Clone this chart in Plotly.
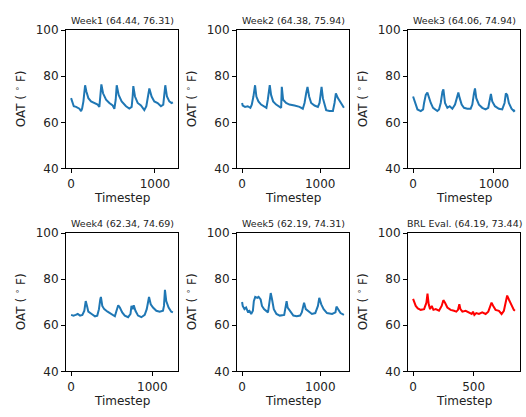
import plotly.graph_objects as go

# ---- data (timestep, OAT in °F) ----
week1_t = [0, 16, 32, 60, 79, 99, 119, 131, 147, 167, 183, 206, 238, 278, 317, 337, 349, 361, 381, 417, 456, 496, 516, 532, 544, 567, 603, 655, 694, 722, 734, 742, 762, 794, 833, 873, 897, 913, 933, 960, 992, 1032, 1071, 1099, 1111, 1123, 1143, 1171, 1198, 1214]
week1_v = [70.5, 68.4, 67.0, 66.7, 66.3, 65.9, 64.9, 65.9, 69.1, 76.1, 73.3, 70.5, 69.1, 68.4, 67.7, 66.7, 71.2, 76.5, 72.6, 69.8, 68.4, 67.3, 65.9, 69.8, 76.1, 71.9, 69.1, 67.0, 66.0, 66.7, 71.2, 75.7, 71.2, 68.4, 67.3, 65.3, 67.0, 71.2, 74.7, 71.2, 69.1, 68.4, 67.0, 67.7, 71.2, 76.1, 71.2, 69.1, 68.4, 68.7]

week2_t = [0, 8, 38, 72, 106, 124, 145, 166, 183, 209, 243, 286, 311, 329, 354, 371, 397, 436, 478, 500, 508, 525, 563, 606, 671, 735, 777, 799, 820, 837, 858, 884, 927, 970, 991, 1004, 1017, 1034, 1056, 1076, 1118, 1162, 1183, 1200, 1226, 1260, 1290, 1303]
week2_v = [68.4, 67.3, 66.7, 67.0, 66.3, 67.7, 71.2, 76.1, 71.2, 69.1, 67.7, 66.7, 66.3, 69.8, 76.1, 71.9, 69.1, 67.7, 67.0, 66.3, 75.4, 69.8, 68.4, 67.7, 67.3, 66.7, 65.9, 68.4, 72.6, 75.4, 71.2, 68.4, 67.3, 66.7, 68.4, 72.6, 75.4, 70.5, 67.0, 65.3, 64.9, 64.9, 68.4, 72.6, 70.5, 68.4, 66.7, 66.3]

week3_t = [0, 16, 33, 54, 95, 124, 136, 157, 177, 198, 219, 247, 300, 321, 342, 363, 375, 395, 424, 453, 486, 519, 548, 560, 577, 601, 630, 671, 712, 733, 753, 766, 782, 815, 856, 897, 930, 947, 963, 980, 1013, 1062, 1103, 1132, 1148, 1165, 1185, 1218, 1247, 1260]
week3_v = [71.2, 69.8, 67.7, 65.6, 64.9, 65.6, 68.4, 71.9, 72.9, 70.5, 68.4, 66.3, 64.9, 65.6, 68.4, 73.3, 74.3, 68.4, 66.3, 67.0, 65.9, 67.7, 71.9, 72.9, 70.5, 67.7, 66.3, 65.9, 65.9, 67.7, 72.6, 74.7, 70.5, 67.7, 66.3, 65.6, 66.3, 69.8, 72.3, 69.1, 67.0, 65.9, 65.6, 68.4, 72.6, 71.9, 68.4, 65.9, 64.9, 65.3]

week4_t = [0, 29, 57, 82, 110, 139, 163, 180, 196, 212, 253, 294, 322, 343, 359, 367, 384, 408, 449, 498, 539, 559, 580, 600, 629, 661, 702, 731, 743, 759, 771, 792, 824, 865, 906, 931, 947, 959, 980, 1008, 1049, 1090, 1131, 1143, 1155, 1171, 1200, 1233, 1253]
week4_v = [64.5, 64.2, 64.5, 64.9, 64.2, 64.5, 66.3, 70.5, 68.4, 65.9, 64.9, 63.9, 64.2, 67.0, 71.2, 72.3, 68.4, 67.0, 65.9, 64.9, 63.9, 66.3, 68.7, 67.7, 65.6, 64.2, 63.5, 64.9, 68.4, 67.0, 68.7, 66.3, 64.2, 63.5, 64.5, 67.0, 70.5, 72.3, 69.1, 67.7, 66.3, 65.9, 66.3, 68.4, 75.4, 70.5, 67.7, 65.9, 65.6]

week5_t = [0, 8, 30, 51, 73, 94, 116, 138, 150, 168, 194, 211, 237, 254, 280, 310, 331, 349, 366, 383, 405, 439, 482, 538, 556, 569, 582, 612, 655, 698, 741, 763, 779, 792, 814, 849, 892, 935, 969, 986, 1012, 1042, 1085, 1150, 1193, 1206, 1223, 1258, 1301]
week5_v = [70.1, 68.4, 67.0, 67.7, 65.9, 66.3, 64.9, 66.3, 70.5, 72.3, 71.9, 72.3, 71.2, 68.4, 67.0, 66.3, 65.6, 69.8, 74.0, 71.2, 67.0, 64.9, 64.2, 64.5, 68.4, 70.5, 67.7, 66.3, 64.2, 63.9, 64.2, 65.6, 68.4, 69.8, 67.0, 65.9, 64.9, 65.3, 68.4, 71.9, 69.1, 67.0, 65.3, 64.9, 65.6, 68.1, 67.0, 65.3, 64.5]

brl_t = [0, 11, 22, 39, 63, 91, 110, 119, 129, 140, 154, 168, 187, 214, 236, 250, 264, 283, 310, 338, 357, 371, 382, 391, 407, 434, 462, 484, 495, 506, 522, 544, 571, 599, 621, 634, 648, 662, 681, 709, 731, 750, 764, 777, 791, 813, 832, 841]
brl_v = [71.5, 69.8, 68.4, 67.3, 66.7, 67.0, 69.8, 73.7, 69.1, 67.0, 68.4, 66.7, 67.0, 66.3, 68.4, 70.9, 69.8, 67.7, 66.7, 66.3, 65.9, 66.7, 69.1, 67.0, 65.9, 66.3, 65.6, 64.9, 65.9, 64.5, 65.3, 64.9, 65.6, 64.9, 65.9, 67.7, 69.8, 68.4, 66.7, 66.3, 64.9, 66.3, 69.1, 72.9, 71.2, 68.4, 66.7, 66.3]

titles = ["Week1 (64.44, 76.31)", "Week2 (64.38, 75.94)", "Week3 (64.06, 74.94)",
          "Week4 (62.34, 74.69)", "Week5 (62.19, 74.31)", "BRL Eval. (64.19, 73.44)"]
y_ticks = [40, 60, 80, 100]

series = [(week1_t, week1_v), (week2_t, week2_v), (week3_t, week3_v),
          (week4_t, week4_v), (week5_t, week5_v), (brl_t, brl_v)]
colors = ["#1f77b4"] * 5 + ["#ff0000"]
x_tickvals = [[0, 1000]] * 5 + [[0, 500]]

W, H = 526, 417
col_px = [(66, 178), (237, 349), (408, 520)]
row_px = [(24, 167), (234, 377)]

fig = go.Figure()
font = "DejaVu Sans, sans-serif"
annotations = []
for i, ((t, v), c) in enumerate(zip(series, colors)):
    r, k = divmod(i, 3)
    ax = "" if i == 0 else str(i + 1)
    fig.add_trace(go.Scatter(x=t, y=v, mode="lines", line=dict(color=c, width=2),
                             xaxis="x" + ax, yaxis="y" + ax, showlegend=False))
    x0, x1 = col_px[k]
    y0, y1 = row_px[r]
    n = t[-1]
    axis_common = dict(showgrid=False, zeroline=False, showline=True, linecolor="black",
                       linewidth=1, mirror=True, ticks="outside", ticklen=4, tickwidth=1,
                       tickcolor="black", tickfont=dict(family=font, size=12, color="#222"))
    fig.layout["xaxis" + ax] = dict(domain=[x0 / W, x1 / W], anchor="y" + ax,
                                    range=[-0.05 * n, 1.05 * n], tickvals=x_tickvals[i], **axis_common)
    fig.layout["yaxis" + ax] = dict(domain=[1 - y1 / H, 1 - y0 / H], anchor="x" + ax,
                                    range=[40, 100], tickvals=y_ticks, **axis_common)
    cx = (x0 + x1) / 2
    annotations.append(dict(text=titles[i], x=cx / W, y=1 - (y0 - 10) / H, xref="paper", yref="paper",
                            showarrow=False, xanchor="center", yanchor="middle",
                            font=dict(family=font, size=9.5, color="#222")))
    annotations.append(dict(text="Timestep", x=cx / W, y=1 - (y1 + 31) / H, xref="paper", yref="paper",
                            showarrow=False, xanchor="center", yanchor="middle",
                            font=dict(family=font, size=12, color="#222")))
    annotations.append(dict(text="OAT ( <sup>∘</sup> F)", x=(x0 - 46) / W, y=1 - ((y0 + y1) / 2) / H,
                            xref="paper", yref="paper", showarrow=False, textangle=-90,
                            xanchor="center", yanchor="middle",
                            font=dict(family=font, size=12, color="#222")))

fig.update_layout(width=W, height=H, margin=dict(l=0, r=0, t=0, b=0),
                  paper_bgcolor="white", plot_bgcolor="white", annotations=annotations)
fig.write_html("out.html", config={"displayModeBar": False},
               post_script="document.body.style.margin='0';document.body.style.overflow='hidden';")
